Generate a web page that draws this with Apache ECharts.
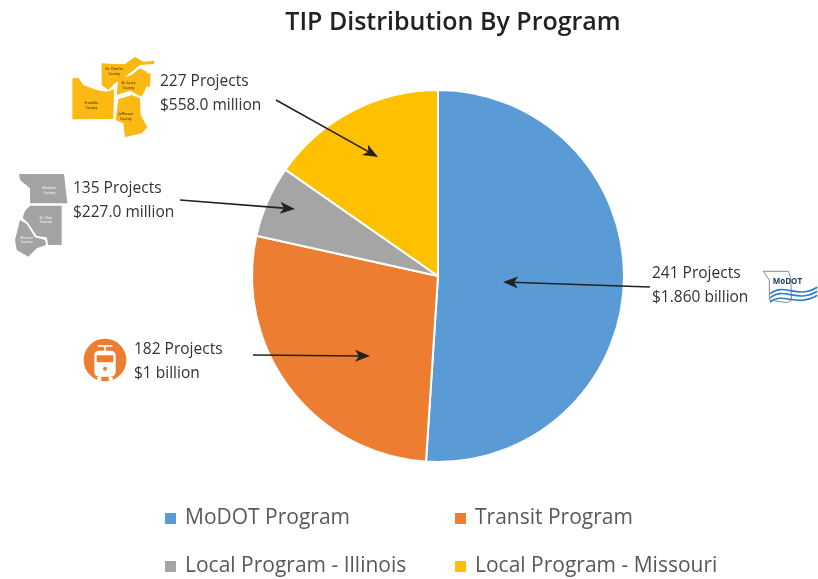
<!DOCTYPE html>
<html>
<head>
<meta charset="utf-8">
<style>html,body{margin:0;padding:0;background:#fff}#chart{width:818px;height:579px}</style>
<script src="https://cdn.jsdelivr.net/npm/echarts@6/dist/echarts.min.js"></script>
</head>
<body>
<div id="chart"></div>
<script>
const programs = ['MoDOT Program', 'Transit Program', 'Local Program - Illinois', 'Local Program - Missouri']
const amounts = [1860, 1000, 227, 558]
const colors = ['#5b9bd5', '#ed7d31', '#a5a5a5', '#ffc000']
const projectLabels = ['241 Projects', '182 Projects', '135 Projects', '227 Projects']
const amountLabels = ['$1.860 billion', '$1 billion', '$227.0 million', '$558.0 million']

const font = '"Open Sans", "Noto Sans", sans-serif'
const labelPos = [[652, 274], [134, 350], [73, 189], [160, 82]]
const arrows = [
  [[650, 287], [503, 282]],
  [[253, 355], [370, 356]],
  [[180, 200], [295, 209]],
  [[276, 100], [378, 157]],
]
const legendPos = [[158, 503], [448, 503], [158, 551], [448, 551]]

function arrow(a, b) {
  const ang = Math.atan2(b[1] - a[1], b[0] - a[0])
  const pt = (back, side) => [
    b[0] - back * Math.cos(ang) - side * Math.sin(ang),
    b[1] - back * Math.sin(ang) + side * Math.cos(ang),
  ]
  return [
    { type: 'line', z: 20, shape: { x1: a[0], y1: a[1], x2: pt(8, 0)[0], y2: pt(8, 0)[1] }, style: { stroke: '#222', lineWidth: 1.6 } },
    { type: 'polygon', z: 20, shape: { points: [b, pt(15, 6), pt(11, 0), pt(15, -6)] }, style: { fill: '#222' } },
  ]
}

function poly(points, fill) {
  return { type: 'polygon', shape: { points }, style: { fill } }
}
function tiny(text, x, y, fill, size) {
  return { type: 'text', style: { text, x, y, fill, font: `bold ${size}px ${font}`, align: 'center', verticalAlign: 'middle', lineHeight: size + 4 } }
}

const missouriMap = {
  type: 'group', x: 0, y: 40, scaleX: 1 / 3, scaleY: 1 / 3,
  children: [
    poly([[217, 115], [235, 113], [250, 135], [290, 150], [320, 155], [342, 148], [340, 237], [217, 238]], '#fdb913'),
    poly([[305, 70], [345, 72], [375, 72], [405, 50], [430, 65], [462, 62], [462, 72], [420, 75], [395, 95], [370, 115], [345, 130], [325, 150], [305, 135]], '#fdb913'),
    poly([[355, 118], [395, 105], [420, 85], [440, 95], [445, 130], [425, 170], [390, 152], [350, 165]], '#fdb913'),
    poly([[436, 100], [452, 100], [450, 140], [436, 140]], '#fdb913'),
    poly([[355, 178], [395, 165], [420, 175], [422, 225], [442, 262], [425, 280], [375, 292], [370, 250], [347, 240]], '#fdb913'),
    tiny('St. Charles\nCounty', 343, 95, '#6b5310', 10),
    tiny('St. Louis\nCounty', 385, 137, '#6b5310', 10),
    tiny('Franklin\nCounty', 274, 196, '#6b5310', 10),
    tiny('Jefferson\nCounty', 378, 229, '#6b5310', 10),
  ],
}
const illinoisMap = {
  type: 'group', x: 0, y: 40, scaleX: 1 / 3, scaleY: 1 / 3,
  children: [
    poly([[57, 402], [192, 402], [202, 490], [90, 490], [90, 445], [60, 420]], '#a3a3a3'),
    poly([[90, 497], [185, 497], [185, 615], [145, 615], [140, 592], [110, 588], [85, 550], [68, 533], [75, 512]], '#a3a3a3'),
    poly([[60, 540], [80, 552], [105, 592], [135, 600], [138, 615], [110, 625], [85, 650], [50, 630], [45, 600]], '#a3a3a3'),
    tiny('Madison\nCounty', 148, 452, '#e4e4e4', 10),
    tiny('St. Clair\nCounty', 138, 540, '#e4e4e4', 10),
    tiny('Monroe\nCounty', 80, 600, '#e4e4e4', 10),
  ],
}
const tramIcon = {
  type: 'group', x: 60, y: 320, scaleX: 1 / 3, scaleY: 1 / 3,
  children: [
    { type: 'circle', shape: { cx: 135, cy: 120, r: 64 }, style: { fill: '#ed7d31' } },
    { type: 'line', shape: { x1: 113, y1: 78, x2: 157, y2: 78 }, style: { stroke: '#fff', lineWidth: 5 } },
    { type: 'line', shape: { x1: 135, y1: 78, x2: 135, y2: 94 }, style: { stroke: '#fff', lineWidth: 5 } },
    { type: 'rect', shape: { x: 103, y: 92, width: 64, height: 78, r: 14 }, style: { fill: '#fff' } },
    { type: 'rect', shape: { x: 110, y: 106, width: 50, height: 21, r: 3 }, style: { fill: '#ed7d31' } },
    { type: 'circle', shape: { cx: 135, cy: 146, r: 6 }, style: { fill: '#ed7d31' } },
    { type: 'rect', shape: { x: 112, y: 170, width: 12, height: 12 }, style: { fill: '#fff' } },
    { type: 'rect', shape: { x: 146, y: 170, width: 12, height: 12 }, style: { fill: '#fff' } },
  ],
}
const wave = (y, bend) => ({
  type: 'bezierCurve',
  shape: { x1: 390, y1: y + 12, cpx1: 430, cpy1: y - bend, cpx2: 470, cpy2: y + 30, x2: 532, y2: y - 8 },
  style: { stroke: '#2d7fc1', lineWidth: 5, fill: 'none' },
})
const modotLogo = {
  type: 'group', x: 640, y: 250, scaleX: 1 / 3, scaleY: 1 / 3,
  children: [
    { type: 'polyline', shape: { points: [[370, 64], [445, 64], [452, 82], [455, 150], [440, 158], [388, 150], [388, 90], [370, 64]] }, style: { stroke: '#8a8a8a', lineWidth: 3, fill: '#fff' } },
    wave(120, 25),
    wave(132, 25),
    wave(144, 20),
    { type: 'text', style: { text: 'MoDOT', x: 398, y: 82, fill: '#1f3f66', font: `bold 24px ${font}` } },
  ],
}

const graphics = [missouriMap, illinoisMap, tramIcon, modotLogo]
labelPos.forEach((p, i) => {
  graphics.push({ type: 'text', z: 20, style: { text: projectLabels[i], x: p[0], y: p[1], fill: '#333', font: `15.5px ${font}`, verticalAlign: 'middle' } })
  graphics.push({ type: 'text', z: 20, style: { text: amountLabels[i], x: p[0], y: p[1] + 24, fill: '#333', font: `15.5px ${font}`, verticalAlign: 'middle' } })
  graphics.push(...arrow(arrows[i][0], arrows[i][1]))
})
// the source image cuts off the last legend letter at its edge
graphics.push({ type: 'rect', z: 100, zlevel: 1, shape: { x: 723, y: 545, width: 40, height: 34 }, style: { fill: '#fff' } })

const chart = echarts.init(document.getElementById('chart'), null, { renderer: 'canvas' })
chart.setOption({
  backgroundColor: '#fff',
  animation: false,
  color: colors,
  title: {
    text: 'TIP Distribution By Program',
    left: 448,
    top: 5,
    textAlign: 'center',
    textStyle: { fontFamily: font, fontSize: 25, fontWeight: 600, color: '#222' },
  },
  legend: programs.map((name, i) => ({
    data: [name],
    left: legendPos[i][0],
    top: legendPos[i][1],
    icon: 'rect',
    itemWidth: 13,
    itemHeight: 13,
    selectedMode: false,
    textStyle: { fontFamily: font, fontSize: 21, color: '#595959', padding: [0, 0, 0, 3] },
  })),
  series: [
    {
      type: 'pie',
      center: [438, 276],
      radius: 186,
      startAngle: 90,
      silent: true,
      label: { show: false },
      labelLine: { show: false },
      itemStyle: { borderColor: '#fff', borderWidth: 2 },
      data: programs.map((name, i) => ({ name, value: amounts[i] })),
    },
  ],
  graphic: graphics,
})
</script>
</body>
</html>
